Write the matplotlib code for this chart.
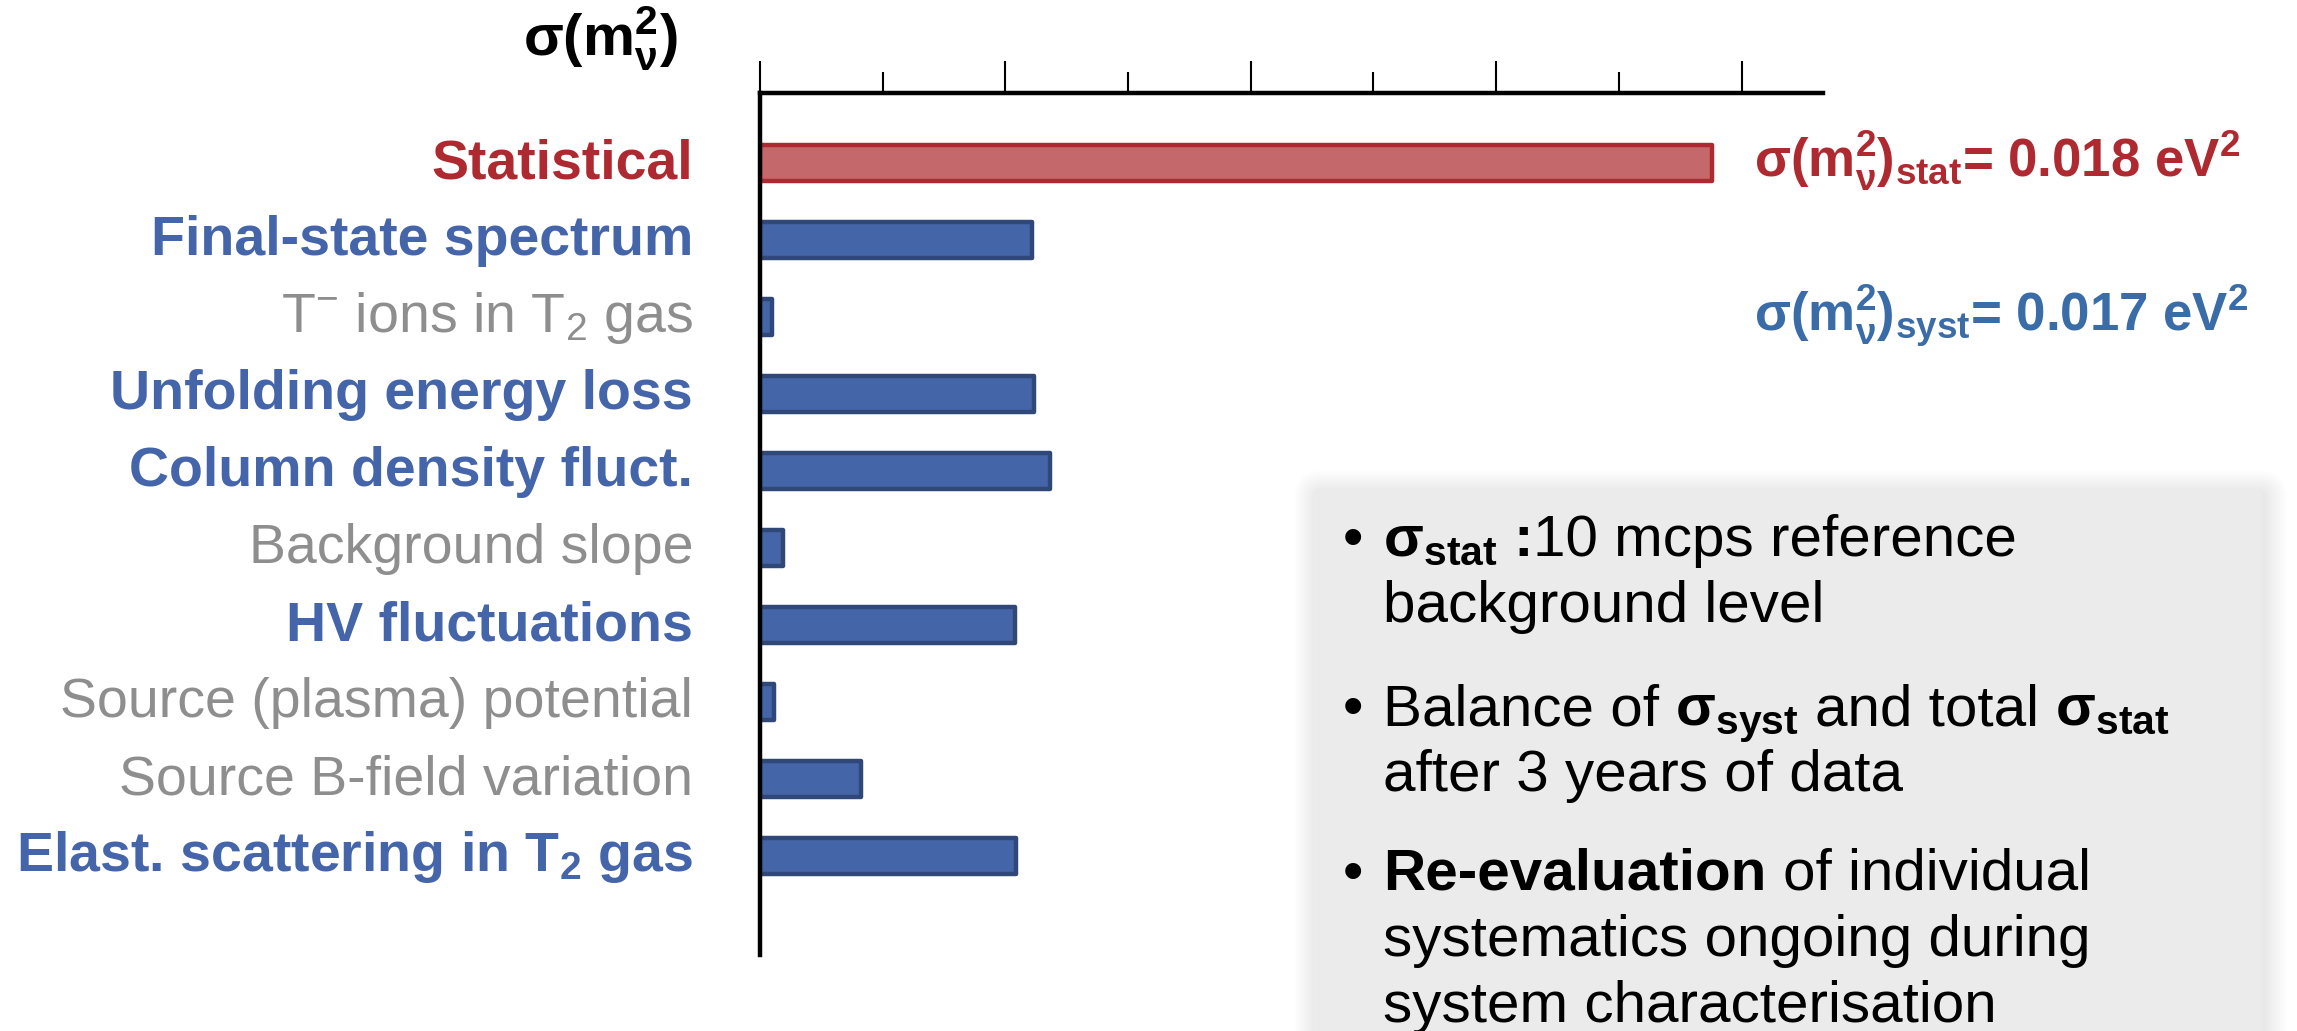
import matplotlib
matplotlib.use("Agg")
import matplotlib.pyplot as plt
from matplotlib.patches import FancyBboxPatch
from matplotlib.ticker import MultipleLocator
from matplotlib.transforms import IdentityTransform

plt.rcParams["font.family"] = ["Liberation Sans", "DejaVu Sans"]
plt.rcParams["mathtext.fontset"] = "custom"
plt.rcParams["mathtext.rm"] = "Liberation Sans"
plt.rcParams["mathtext.it"] = "Liberation Sans:italic"
plt.rcParams["mathtext.bf"] = "Liberation Sans:bold"

# ---- uncertainty budget, sigma(m_nu^2) in eV^2 ----
categories = [
    "Statistical",
    "Final-state spectrum",
    r"T$^{-}$ ions in T$_{2}$ gas",
    "Unfolding energy loss",
    "Column density fluct.",
    "Background slope",
    "HV fluctuations",
    "Source (plasma) potential",
    "Source B-field variation",
    r"Elast. scattering in T$_{\mathbf{2}}$ gas",
]
sigma_values = [0.018, 0.00515, 0.00023, 0.00519, 0.00549,
                0.00044, 0.00483, 0.00027, 0.00191, 0.00485]
# 'stat' = statistical, 'major' = leading systematic, 'minor' = small systematic
category_kind = ["stat", "major", "minor", "major", "major",
                 "minor", "major", "minor", "minor", "major"]
syst_total = 0.017

bullet_lines = [
    "background level",
    "after 3 years of data",
    "systematics ongoing during",
    "system characterisation",
]

# ---- colours ----
RED = "#AE2A30"
RED_FILL = "#C4686B"
BLUE_LABEL = "#4465AA"
BLUE_TEXT = "#3A6CA8"
BLUE_FILL = "#4565A9"
BLUE_EDGE = "#2F4878"
GREY = "#8E8E8E"

W, H = 2297, 1031
fig = plt.figure(figsize=(W / 100, H / 100), dpi=100)
fig.patch.set_facecolor("white")


def fx(x):
    return x / W


def fy(y):
    return 1 - y / H


ax = fig.add_axes([fx(760), fy(955), (1823 - 760) / W, (955 - 92.7) / H])

ypos = list(range(len(categories)))
fills = [RED_FILL if k == "stat" else BLUE_FILL for k in category_kind]
edges = [RED if k == "stat" else BLUE_EDGE for k in category_kind]
ax.barh(ypos, sigma_values, height=0.47, color=fills, edgecolor=edges,
        linewidth=3.2, joinstyle="round", zorder=1)

ax.set_xlim(0, 0.0201)
ax.set_ylim(10.29, -0.913)
ax.set_facecolor("none")
for side in ("right", "bottom"):
    ax.spines[side].set_visible(False)
for side in ("top", "left"):
    ax.spines[side].set_linewidth(3.2)
    ax.spines[side].set_color("black")
    ax.spines[side].set_zorder(3)

ax.xaxis.tick_top()
ax.xaxis.set_major_locator(MultipleLocator(0.00464))
ax.xaxis.set_minor_locator(MultipleLocator(0.00232))
ax.tick_params(axis="x", which="major", direction="out", length=23,
               width=1.5, color="black", labeltop=False, labelbottom=False)
ax.tick_params(axis="x", which="minor", direction="out", length=15,
               width=1.5, color="black")
ax.tick_params(axis="y", left=False, labelleft=False)

# category labels
label_style = {
    "stat": dict(color=RED, fontweight="bold"),
    "major": dict(color=BLUE_LABEL, fontweight="bold"),
    "minor": dict(color=GREY, fontweight="normal"),
}
for yi, lab, kind in zip(ypos, categories, category_kind):
    ax.text(-0.063, yi + 0.20, lab, transform=ax.get_yaxis_transform(),
            ha="right", va="baseline", fontsize=40, **label_style[kind])

# axis title
fig.text(fx(678), fy(56), r"$\mathbf{\sigma(m_{\nu}^{2})}$",
         ha="right", va="baseline", fontsize=42, color="black")

# totals
fig.text(fx(1754), fy(177),
         r"$\mathbf{\sigma(m_{\nu}^{2})_{stat}}$" + f"= {sigma_values[0]:.3f} eV" + r"$^{\mathbf{2}}$",
         ha="left", va="baseline", fontsize=38, color=RED, fontweight="bold")
fig.text(fx(1754), fy(331),
         r"$\mathbf{\sigma(m_{\nu}^{2})_{syst}}$" + f"= {syst_total:.3f} eV" + r"$^{\mathbf{2}}$",
         ha="left", va="baseline", fontsize=38, color=BLUE_TEXT, fontweight="bold")

# ---- note box with soft shadow (pixel coordinates, origin bottom-left) ----
bx0, bx1, btop, bbot = 1313, 2262, 489, 1070
for k in range(22, 0, -1):
    sh = FancyBboxPatch((bx0 - k + 3, H - bbot - k - 3), (bx1 - bx0) + 2 * k,
                        (bbot - btop) + 2 * k,
                        boxstyle=f"round,pad=0,rounding_size={6 + k}",
                        transform=IdentityTransform(), facecolor="black",
                        edgecolor="none", alpha=0.0045, zorder=5)
    fig.patches.append(sh)
box = FancyBboxPatch((bx0, H - bbot), bx1 - bx0, bbot - btop,
                     boxstyle="round,pad=0,rounding_size=6",
                     transform=IdentityTransform(), facecolor="#EBEBEB",
                     edgecolor="none", zorder=6)
fig.patches.append(box)

FS = 42
SPACE = FS * 100 / 72 * 0.278
renderer = fig.canvas.get_renderer()


def draw_runs(x, y, runs):
    """Draw text pieces one after another on a single baseline (pixels)."""
    for text, weight, gap in runs:
        t = fig.text(fx(x), fy(y), text, fontsize=FS, fontweight=weight,
                     ha="left", va="baseline", color="black", zorder=7)
        bb = t.get_window_extent(renderer)
        x = bb.x1 + (SPACE if gap else 0)


TEXT_X = 1383
BULLET_X = 1343
for yb in (556, 725, 890):
    fig.text(fx(BULLET_X), fy(yb), "\u2022", fontsize=FS, ha="left",
             va="baseline", color="black", zorder=7)

draw_runs(TEXT_X, 556, [(r"$\mathbf{\sigma_{stat}}$", "bold", True),
                        (":", "bold", False),
                        ("10 mcps reference", "normal", False)])
draw_runs(TEXT_X, 622, [(bullet_lines[0], "normal", False)])
draw_runs(TEXT_X, 725, [("Balance of", "normal", True),
                        (r"$\mathbf{\sigma_{syst}}$", "bold", True),
                        ("and total", "normal", True),
                        (r"$\mathbf{\sigma_{stat}}$", "bold", False)])
draw_runs(TEXT_X, 791, [(bullet_lines[1], "normal", False)])
draw_runs(TEXT_X, 890, [("Re-evaluation", "bold", True),
                        ("of individual", "normal", False)])
draw_runs(TEXT_X, 956, [(bullet_lines[2], "normal", False)])
draw_runs(TEXT_X, 1022, [(bullet_lines[3], "normal", False)])

fig.savefig("out.png", dpi=100, facecolor="white")
